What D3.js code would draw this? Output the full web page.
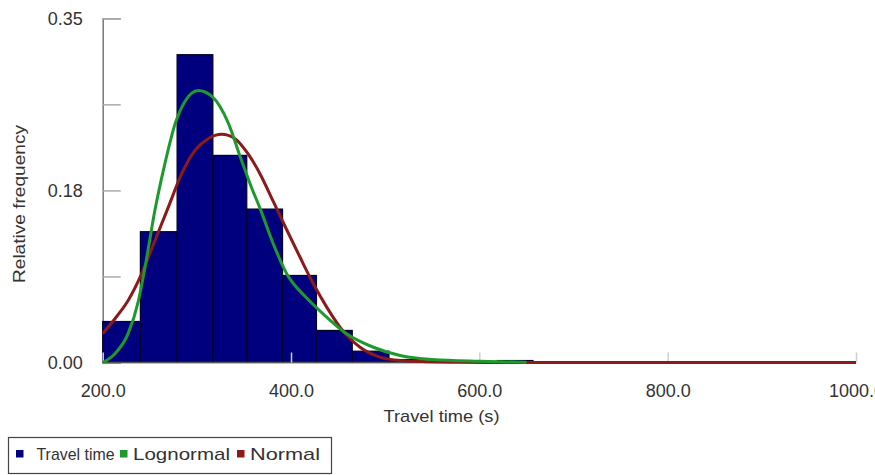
<!DOCTYPE html>
<html>
<head>
<meta charset="utf-8">
<script src="https://cdn.jsdelivr.net/npm/d3@7"></script>
<style>
  html, body { margin: 0; padding: 0; background: #fff; }
  svg { display: block; font-family: "Liberation Sans", Arial, sans-serif; }
</style>
</head>
<body>
<svg id="chart" width="875" height="475"></svg>
<script>
// ---- data ----
const binEdges = [200, 240, 279, 317, 353, 391, 427, 465, 504, 542, 580, 619, 657];
const travelFreq = [0.0417, 0.133, 0.313, 0.2106, 0.156, 0.0885, 0.0326, 0.0115, 0.003, 0.001, 0.001, 0.002];

const lognormX = [200, 213, 227, 238, 245, 255.5, 266, 277, 287, 301.5, 316, 333.4, 346.5, 358, 367, 381, 395.4, 416.7, 437.9, 459, 487.4, 515.8, 550, 600, 650];
const lognormY = [0, 0.009, 0.0293, 0.063, 0.097, 0.155, 0.202, 0.243, 0.265, 0.2767, 0.2706, 0.2435, 0.208, 0.178, 0.157, 0.121, 0.0903, 0.0655, 0.0461, 0.0292, 0.0155, 0.0071, 0.003, 0.0012, 0.0003];

const normX = [200, 213, 227, 241.4, 255.5, 269.7, 283.9, 298, 312, 326.4, 340.5, 354.6, 367, 381, 395.4, 409.6, 423.7, 437.9, 452, 473.3, 494.5, 515.8, 560, 620, 700, 800, 1000];
const normY = [0.0293, 0.0445, 0.063, 0.0903, 0.124, 0.158, 0.192, 0.2157, 0.2276, 0.232, 0.2276, 0.2118, 0.192, 0.164, 0.135, 0.107, 0.080, 0.0563, 0.036, 0.0155, 0.0054, 0.002, 0.0005, 0, 0, 0, 0];

const xTickValues = [200, 400, 600, 800, 1000];
const yTickValues = [0, 0.0875, 0.175, 0.2625, 0.35];
const yLabelValues = [0, 0.175, 0.35];
const yLabelText = ["0.00", "0.18", "0.35"];

const legendNames = ["Travel time", "Lognormal", "Normal"];
const colors = { bar: "#00007e", lognormal: "#1e9a2c", normal: "#8c1a1a" };

// ---- drawing ----
const svg = d3.select("#chart");
const x = d3.scaleLinear().domain([200, 1000]).range([102.7, 856]);
const y = d3.scaleLinear().domain([0, 0.35]).range([362.5, 18.3]);

// y axis line + inward ticks
const yAxis = svg.append("g")
  .attr("transform", `translate(${x(200)},0)`)
  .call(d3.axisRight(y).tickValues(yTickValues).tickSize(18).tickFormat(""));
yAxis.select(".domain").attr("stroke", "#777").attr("stroke-width", 1.5);
yAxis.selectAll(".tick line").attr("stroke", "#aaa").attr("stroke-width", 1.5);

// y labels
const yLab = svg.append("g")
  .attr("transform", `translate(${x(200)},0)`)
  .call(d3.axisLeft(y).tickValues(yLabelValues).tickSize(0).tickPadding(20)
    .tickFormat((d, i) => yLabelText[i]));
yLab.select(".domain").remove();
yLab.selectAll("text").attr("font-size", 18).attr("fill", "#333")
  .attr("font-family", "'Liberation Sans', Arial, sans-serif");

// bars
const bins = travelFreq.map((v, i) => ({ x0: binEdges[i], x1: binEdges[i + 1], v }));
svg.append("g").selectAll("rect").data(bins).join("rect")
  .attr("x", d => x(d.x0))
  .attr("width", d => x(d.x1) - x(d.x0))
  .attr("y", d => y(d.v))
  .attr("height", d => y(0) - y(d.v))
  .attr("fill", colors.bar)
  .attr("stroke", "#000028")
  .attr("stroke-width", 1.2);

// x axis baseline
svg.append("line")
  .attr("x1", x(200)).attr("x2", x(1000))
  .attr("y1", y(0)).attr("y2", y(0))
  .attr("stroke", "#555").attr("stroke-width", 1.5);

// x ticks (upward, light)
const xTicks = svg.append("g")
  .attr("transform", `translate(0,${y(0)})`)
  .call(d3.axisTop(x).tickValues(xTickValues).tickSize(10).tickFormat(""));
xTicks.select(".domain").remove();
xTicks.selectAll(".tick line").attr("stroke", "#cfcfdc").attr("stroke-width", 1.5);

// x labels
const xLab = svg.append("g")
  .attr("transform", `translate(0,${y(0)})`)
  .call(d3.axisBottom(x).tickValues(xTickValues).tickSize(0).tickPadding(21.5)
    .tickFormat(d3.format(".1f")));
xLab.select(".domain").remove();
xLab.selectAll("text").attr("font-size", 18).attr("fill", "#333")
  .attr("font-family", "'Liberation Sans', Arial, sans-serif");

// curves
const line = d3.line().x(d => x(d[0])).y(d => y(d[1])).curve(d3.curveMonotoneX);
svg.append("path")
  .datum(normX.map((v, i) => [v, normY[i]]))
  .attr("d", line).attr("fill", "none")
  .attr("stroke", colors.normal).attr("stroke-width", 3);
svg.append("path")
  .datum(lognormX.map((v, i) => [v, lognormY[i]]))
  .attr("d", line).attr("fill", "none")
  .attr("stroke", colors.lognormal).attr("stroke-width", 3);

// axis titles
svg.append("text")
  .attr("x", 441.5).attr("y", 422)
  .attr("text-anchor", "middle")
  .attr("font-size", 17).attr("fill", "#333")
  .attr("textLength", 116).attr("lengthAdjust", "spacingAndGlyphs")
  .text("Travel time (s)");
svg.append("text")
  .attr("transform", "translate(25,204) rotate(-90)")
  .attr("text-anchor", "middle")
  .attr("font-size", 17).attr("fill", "#333")
  .attr("textLength", 158).attr("lengthAdjust", "spacingAndGlyphs")
  .text("Relative frequency");

// legend
const legend = svg.append("g");
legend.append("rect")
  .attr("x", 8.5).attr("y", 437.5).attr("width", 323).attr("height", 36)
  .attr("fill", "#fff").attr("stroke", "#444").attr("stroke-width", 1.2);
const legItems = [
  { name: legendNames[0], color: colors.bar, sx: 16, tx: 36.5, tw: 78 },
  { name: legendNames[1], color: colors.lognormal, sx: 120, tx: 133, tw: 97 },
  { name: legendNames[2], color: colors.normal, sx: 237, tx: 250, tw: 70 }
];
legItems.forEach(it => {
  legend.append("rect").attr("x", it.sx).attr("y", 450).attr("width", 7.5).attr("height", 7.5)
    .attr("fill", it.color);
  legend.append("text").attr("x", it.tx).attr("y", 460)
    .attr("font-size", 17).attr("fill", "#333")
    .attr("textLength", it.tw).attr("lengthAdjust", "spacingAndGlyphs")
    .text(it.name);
});
</script>
</body>
</html>
